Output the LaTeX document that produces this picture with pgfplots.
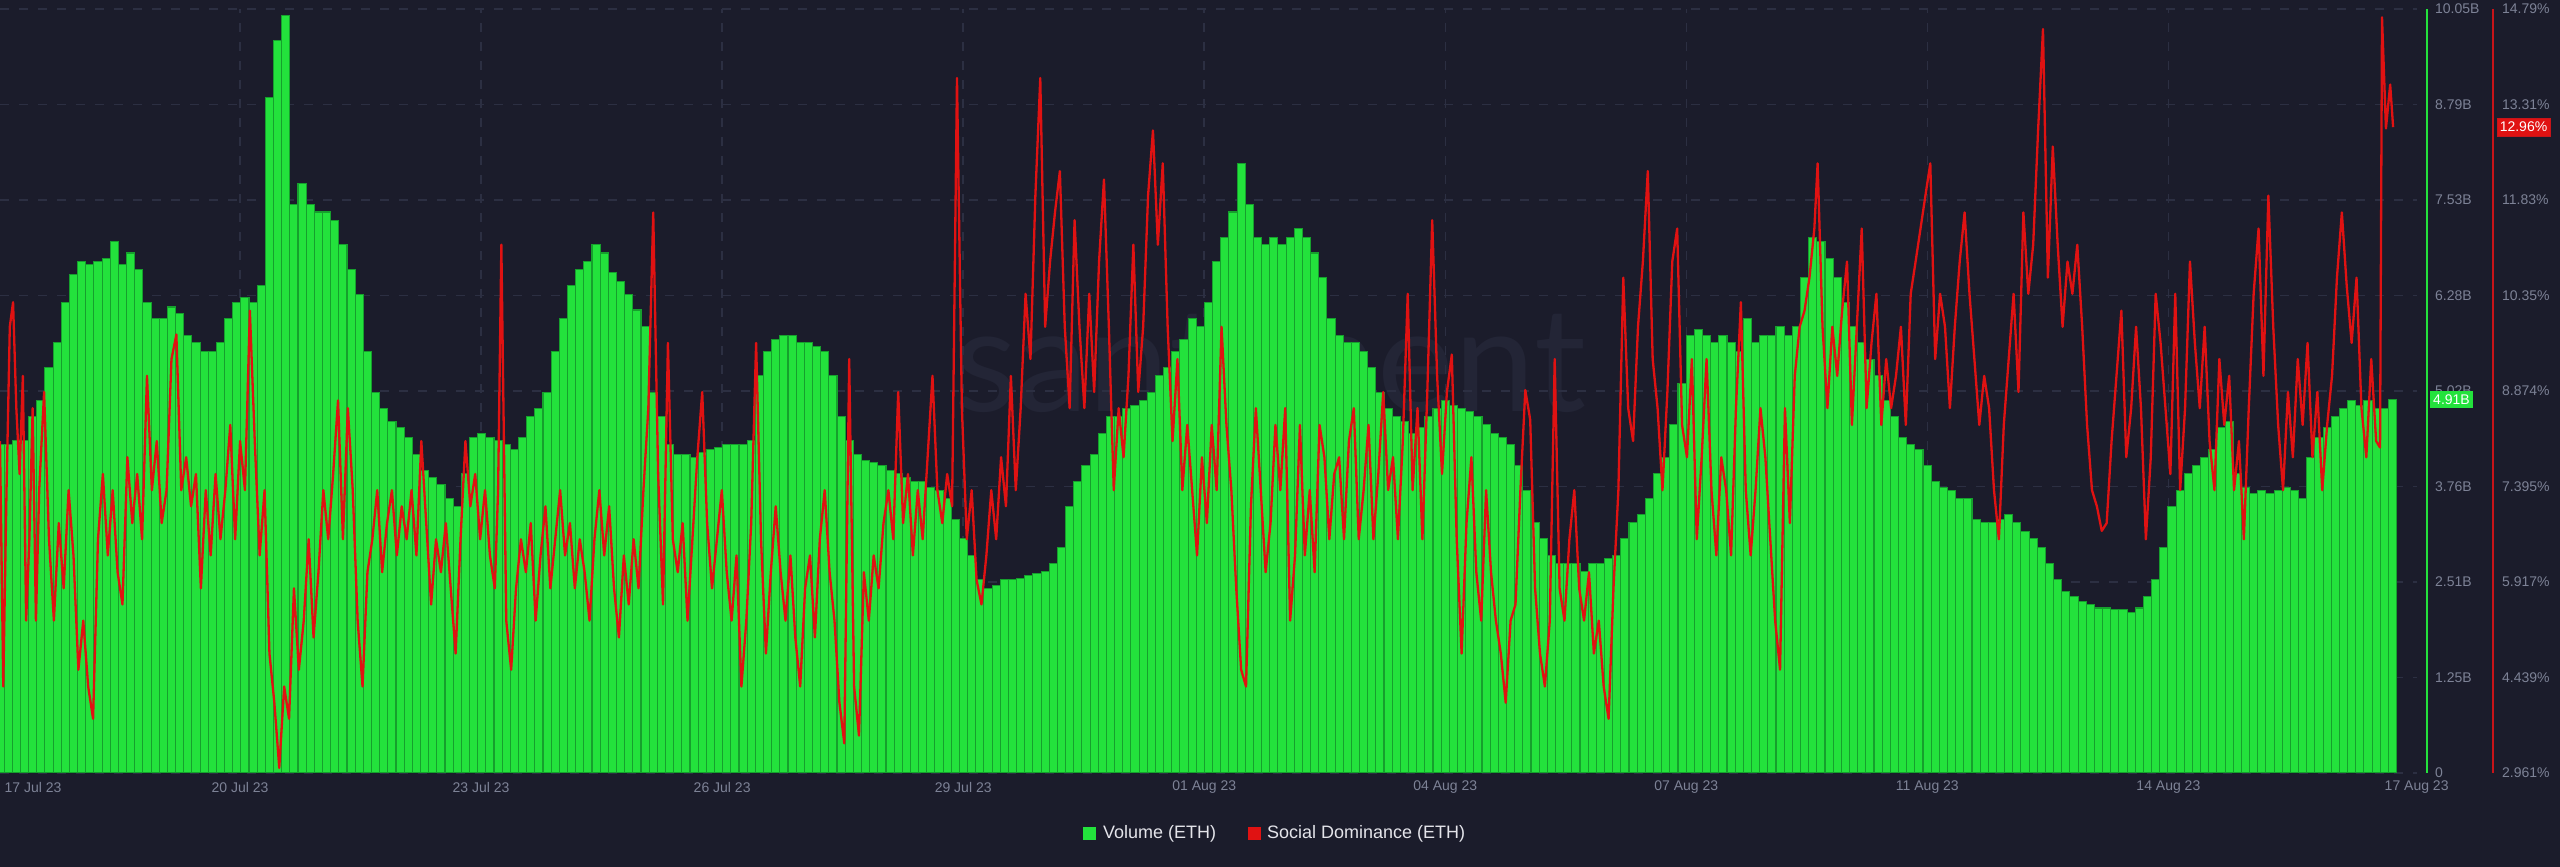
\documentclass[border=0pt]{standalone}
\usepackage{fontspec}
\setmainfont{Liberation Sans}
\newfontfamily\wmfont{Lato}
\usepackage{pgfplots}
\pgfplotsset{compat=1.18}
\definecolor{bgc}{RGB}{27,28,43}
\definecolor{gridc}{RGB}{44,47,66}
\definecolor{tickc}{RGB}{125,130,150}
\definecolor{legc}{RGB}{228,228,234}
\definecolor{volgreen}{RGB}{35,226,60}
\definecolor{voldark}{RGB}{22,160,45}
\definecolor{sdred}{RGB}{224,18,18}
\definecolor{sdaxis}{RGB}{200,20,25}
\definecolor{wmc}{RGB}{35,37,54}
\begin{document}
\begin{tikzpicture}[x=1pt,y=1pt]
\fill[bgc] (0,0) rectangle (2560,867);
\useasboundingbox (0,0) rectangle (2560,867);
\node[text=wmc, font=\wmfont\fontsize{145}{150}\selectfont] at (1270,508) {santiment};
\begin{axis}[
  at={(0pt,94pt)}, anchor=south west,
  width=2417pt, height=764pt, scale only axis,
  xmin=0, xmax=740, ymin=0, ymax=10.05,
  axis line style={draw=none},
  major tick length=0pt,
  grid=major,
  major grid style={gridc, line width=1.5pt, dash pattern=on 9pt off 10pt},
  xtick={73.5,147.3,221.1,294.9,368.7,442.5,516.3,590.1,663.9},
  xticklabels={20 Jul 23,23 Jul 23,26 Jul 23,29 Jul 23,01 Aug 23,04 Aug 23,07 Aug 23,11 Aug 23,14 Aug 23},
  extra x ticks={10.1,739.9},
  extra x tick labels={17 Jul 23,17 Aug 23},
  extra x tick style={grid=none},
  xticklabel style={font=\fontsize{14}{16}\selectfont, text=tickc, anchor=center, inner sep=0pt, yshift=-14pt},
  ytick={0,1.25625,2.5125,3.76875,5.025,6.28125,7.5375,8.79375,10.05},
  yticklabels={0,1.25B,2.51B,3.76B,5.02B,6.28B,7.53B,8.79B,10.05B},
  yticklabel pos=right,
  yticklabel style={anchor=west, inner sep=0pt, xshift=18pt, font=\fontsize{14}{16}\selectfont, text=tickc},
]
\addplot[ybar, bar width=2.5, bar shift=0pt, fill=volgreen, draw=voldark, line width=1.1pt] coordinates {
(0,4.32)(2.5,4.32)(5,4.37)(7.5,4.37)(10,4.69)(12.5,4.90)(15,5.33)(17.5,5.66)(20,6.19)(22.5,6.56)
(25,6.73)(27.5,6.69)(30,6.73)(32.5,6.77)(35,6.99)(37.5,6.69)(40,6.84)(42.5,6.62)(45,6.19)(47.5,5.98)
(50,5.98)(52.5,6.13)(55,6.04)(57.5,5.76)(60,5.66)(62.5,5.55)(65,5.55)(67.5,5.66)(70,5.98)(72.5,6.19)
(75,6.26)(77.5,6.19)(80,6.41)(82.5,8.88)(85,9.64)(87.5,9.96)(90,7.48)(92.5,7.76)(95,7.48)(97.5,7.38)
(100,7.38)(102.5,7.27)(105,6.95)(107.5,6.62)(110,6.30)(112.5,5.55)(115,5.01)(117.5,4.80)(120,4.62)(122.5,4.54)
(125,4.41)(127.5,4.19)(130,3.98)(132.5,3.89)(135,3.79)(137.5,3.61)(140,3.51)(142.5,3.94)(145,4.41)(147.5,4.47)
(150,4.41)(152.5,4.37)(155,4.32)(157.5,4.26)(160,4.41)(162.5,4.69)(165,4.80)(167.5,5.01)(170,5.55)(172.5,5.98)
(175,6.41)(177.5,6.62)(180,6.73)(182.5,6.95)(185,6.84)(187.5,6.58)(190,6.47)(192.5,6.30)(195,6.09)(197.5,5.87)
(200,5.01)(202.5,4.69)(205,4.32)(207.5,4.19)(210,4.19)(212.5,4.15)(215,4.22)(217.5,4.26)(220,4.28)(222.5,4.32)
(225,4.32)(227.5,4.32)(230,4.37)(232.5,5.23)(235,5.55)(237.5,5.70)(240,5.76)(242.5,5.76)(245,5.66)(247.5,5.66)
(250,5.61)(252.5,5.55)(255,5.23)(257.5,4.69)(260,4.37)(262.5,4.19)(265,4.11)(267.5,4.09)(270,4.04)(272.5,3.98)
(275,3.94)(277.5,3.89)(280,3.83)(282.5,3.83)(285,3.76)(287.5,3.72)(290,3.61)(292.5,3.33)(295,3.08)(297.5,2.86)
(300,2.54)(302.5,2.43)(305,2.47)(307.5,2.54)(310,2.54)(312.5,2.56)(315,2.60)(317.5,2.62)(320,2.65)(322.5,2.75)
(325,2.97)(327.5,3.51)(330,3.83)(332.5,4.04)(335,4.19)(337.5,4.47)(340,4.69)(342.5,4.69)(345,4.80)(347.5,4.84)
(350,4.90)(352.5,5.01)(355,5.23)(357.5,5.33)(360,5.55)(362.5,5.70)(365,5.98)(367.5,5.87)(370,6.19)(372.5,6.73)
(375,7.05)(377.5,7.38)(380,8.02)(382.5,7.48)(385,7.05)(387.5,6.95)(390,7.05)(392.5,6.95)(395,7.05)(397.5,7.16)
(400,7.05)(402.5,6.84)(405,6.52)(407.5,5.98)(410,5.76)(412.5,5.66)(415,5.66)(417.5,5.55)(420,5.33)(422.5,5.01)
(425,4.80)(427.5,4.69)(430,4.62)(432.5,4.47)(435,4.54)(437.5,4.69)(440,4.80)(442.5,4.90)(445,4.84)(447.5,4.80)
(450,4.75)(452.5,4.69)(455,4.58)(457.5,4.47)(460,4.41)(462.5,4.32)(465,4.04)(467.5,3.72)(470,3.29)(472.5,3.08)
(475,2.86)(477.5,2.75)(480,2.75)(482.5,2.75)(485,2.65)(487.5,2.75)(490,2.75)(492.5,2.82)(495,2.86)(497.5,3.08)
(500,3.29)(502.5,3.40)(505,3.61)(507.5,3.94)(510,4.15)(512.5,4.58)(515,5.12)(517.5,5.76)(520,5.83)(522.5,5.76)
(525,5.66)(527.5,5.76)(530,5.66)(532.5,5.55)(535,5.98)(537.5,5.66)(540,5.76)(542.5,5.76)(545,5.87)(547.5,5.76)
(550,5.87)(552.5,6.52)(555,7.05)(557.5,6.99)(560,6.77)(562.5,6.52)(565,6.19)(567.5,5.87)(570,5.66)(572.5,5.44)
(575,5.23)(577.5,4.90)(580,4.69)(582.5,4.41)(585,4.32)(587.5,4.26)(590,4.04)(592.5,3.83)(595,3.76)(597.5,3.72)
(600,3.61)(602.5,3.61)(605,3.33)(607.5,3.29)(610,3.29)(612.5,3.33)(615,3.40)(617.5,3.29)(620,3.18)(622.5,3.08)
(625,2.97)(627.5,2.75)(630,2.54)(632.5,2.39)(635,2.32)(637.5,2.26)(640,2.22)(642.5,2.17)(645,2.17)(647.5,2.15)
(650,2.15)(652.5,2.11)(655,2.17)(657.5,2.32)(660,2.54)(662.5,2.97)(665,3.51)(667.5,3.72)(670,3.94)(672.5,4.04)
(675,4.15)(677.5,4.26)(680,4.54)(682.5,4.62)(685,3.94)(687.5,3.76)(690,3.68)(692.5,3.72)(695,3.68)(697.5,3.72)
(700,3.76)(702.5,3.72)(705,3.61)(707.5,4.15)(710,4.41)(712.5,4.54)(715,4.69)(717.5,4.80)(720,4.90)(722.5,4.84)
(725,4.90)(727.5,4.80)(730,4.80)(732.5,4.91)
};
\end{axis}
\begin{axis}[
  at={(0pt,94pt)}, anchor=south west,
  width=2417pt, height=764pt, scale only axis,
  xmin=0, xmax=740, ymin=2.961, ymax=14.79,
  axis line style={draw=none},
  major tick length=0pt,
  xtick=\empty,
  ytick={2.961,4.439,5.917,7.395,8.874,10.35,11.83,13.31,14.79},
  yticklabels={2.961\%,4.439\%,5.917\%,7.395\%,8.874\%,10.35\%,11.83\%,13.31\%,14.79\%},
  yticklabel pos=right,
  yticklabel style={anchor=west, inner sep=0pt, xshift=85pt, font=\fontsize{14}{16}\selectfont, text=tickc},
]
\addplot[sdred, line width=2.3pt, line join=round] coordinates {
(0,8.10)(1,4.30)(2,7.34)(3,9.87)(4,10.25)(5,8.61)(6,7.59)(7,9.11)(8,5.32)(9,6.58)
(10,8.61)(11,5.32)(12,7.34)(13.5,8.86)(15,6.58)(16.5,5.32)(18,6.83)(19.5,5.82)(21,7.34)(22.5,6.33)
(24,4.56)(25.5,5.32)(27,4.30)(28.5,3.80)(30,6.58)(31.5,7.59)(33,6.33)(34.5,7.34)(36,6.07)(37.5,5.57)
(39,7.85)(40.5,6.83)(42,7.59)(43.5,6.58)(45,9.11)(46.5,7.34)(48,8.10)(49.5,6.83)(51,7.34)(52.5,9.37)
(54,9.75)(55.5,7.34)(57,7.85)(58.5,7.09)(60,7.59)(61.5,5.82)(63,7.34)(64.5,6.33)(66,7.59)(67.5,6.58)
(69,7.34)(70.5,8.35)(72,6.58)(73.5,8.10)(75,7.34)(76.5,10.12)(78,8.10)(79.5,6.33)(81,7.34)(82.5,4.81)
(84,4.05)(85.5,3.04)(87,4.30)(88.5,3.80)(90,5.82)(91.5,4.56)(93,5.32)(94.5,6.58)(96,5.06)(97.5,6.07)
(99,7.34)(100.5,6.58)(102,7.59)(103.5,8.73)(105,6.58)(106.5,8.61)(108,7.34)(109.5,5.32)(111,4.30)(112.5,6.07)
(114,6.58)(115.5,7.34)(117,6.07)(118.5,6.83)(120,7.34)(121.5,6.33)(123,7.09)(124.5,6.58)(126,7.34)(127.5,6.33)
(129,8.10)(130.5,6.83)(132,5.57)(133.5,6.58)(135,6.07)(136.5,6.83)(138,5.82)(139.5,4.81)(141,6.58)(142.5,8.10)
(144,7.09)(145.5,7.59)(147,6.58)(148.5,7.34)(150,6.33)(151.5,5.82)(152.5,7.34)(153.5,11.14)(155,5.32)(156.5,4.56)
(158,5.82)(159.5,6.58)(161,6.07)(162.5,6.83)(164,5.32)(165.5,6.33)(167,7.09)(168.5,5.82)(170,6.58)(171.5,7.34)
(173,6.33)(174.5,6.83)(176,5.82)(177.5,6.58)(179,6.07)(180.5,5.32)(182,6.58)(183.5,7.34)(185,6.33)(186.5,7.09)
(188,5.82)(189.5,5.06)(191,6.33)(192.5,5.57)(194,6.58)(195.5,5.82)(197,7.34)(198.5,8.61)(200,11.64)(201.5,7.59)
(203,5.57)(204.5,9.62)(206,6.58)(207.5,6.07)(209,6.83)(210.5,5.32)(212,6.58)(213.5,7.85)(215,8.86)(216.5,6.83)
(218,5.82)(219.5,6.58)(221,7.34)(222.5,6.07)(224,5.32)(225.5,6.33)(227,4.30)(228.5,5.32)(230,6.83)(231.5,9.62)
(233,6.58)(234.5,4.81)(236,6.07)(237.5,7.09)(239,6.07)(240.5,5.32)(242,6.33)(243.5,5.06)(245,4.30)(246.5,5.82)
(248,6.33)(249.5,5.06)(251,6.58)(252.5,7.34)(254,6.07)(255.5,5.32)(257,4.05)(258.5,3.42)(260,9.37)(261.5,4.30)
(263,3.54)(264.5,6.07)(266,5.32)(267.5,6.33)(269,5.82)(270.5,6.83)(272,7.34)(273.5,6.58)(275,8.86)(276.5,6.83)
(278,7.59)(279.5,6.33)(281,7.34)(282.5,6.58)(284,7.85)(285.5,9.11)(287,7.34)(288.5,6.83)(290,7.59)(291.5,7.09)
(293,13.72)(294.5,8.61)(296,6.58)(297.5,7.34)(299,5.95)(300.5,5.57)(302,6.33)(303.5,7.34)(305,6.58)(306.5,7.85)
(308,7.09)(309.5,9.11)(311,7.34)(312.5,8.61)(314,10.38)(315.5,9.37)(317,11.90)(318.5,13.72)(320,9.87)(321.5,10.88)
(323,11.64)(324.5,12.28)(326,9.87)(327.5,8.61)(329,11.52)(330.5,9.87)(332,8.61)(333.5,10.38)(335,8.86)(336.5,10.88)
(338,12.15)(339.5,9.87)(341,7.34)(342.5,8.61)(344,7.85)(345.5,9.11)(347,11.14)(348.5,8.86)(350,9.87)(351.5,11.90)
(353,12.91)(354.5,11.14)(356,12.40)(357.5,9.87)(359,8.10)(360.5,9.37)(362,7.34)(363.5,8.35)(365,7.34)(366.5,6.33)
(368,7.85)(369.5,6.83)(371,8.35)(372.5,7.34)(374,9.87)(375.5,8.35)(377,7.34)(378.5,5.82)(380,4.56)(381.5,4.30)
(383,7.09)(384.5,8.61)(386,7.34)(387.5,6.07)(389,6.83)(390.5,8.35)(392,7.34)(393.5,8.61)(395,5.32)(396.5,6.33)
(398,8.35)(399.5,6.33)(401,7.34)(402.5,6.07)(404,8.35)(405.5,7.85)(407,6.58)(408.5,7.59)(410,7.85)(411.5,6.58)
(413,8.10)(414.5,8.61)(416,6.58)(417.5,7.34)(419,8.35)(420.5,6.58)(422,7.59)(423.5,8.86)(425,7.34)(426.5,7.85)
(428,6.58)(429.5,8.10)(431,10.38)(432.5,7.34)(434,8.61)(435.5,6.58)(437,8.86)(438.5,11.52)(440,9.11)(441.5,7.59)
(443,8.86)(444.5,9.44)(446,6.58)(447.5,4.81)(449,6.83)(450.5,7.85)(452,6.07)(453.5,5.32)(455,7.34)(456.5,6.07)
(458,5.32)(459.5,4.81)(461,4.05)(462.5,5.32)(464,5.57)(465.5,7.34)(467,8.89)(468.5,8.43)(470,5.82)(471.5,4.81)
(473,4.30)(474.5,5.32)(476,9.37)(477.5,5.82)(479,5.32)(480.5,6.58)(482,7.34)(483.5,5.82)(485,5.32)(486.5,6.07)
(488,4.81)(489.5,5.32)(491,4.30)(492.5,3.80)(494,5.82)(495.5,7.34)(497,10.63)(498.5,8.61)(500,8.10)(501.5,9.87)
(503,10.88)(504.5,12.28)(506,9.37)(507.5,8.61)(509,7.34)(510.5,8.86)(512,10.88)(513.5,11.39)(515,8.35)(516.5,7.85)
(518,9.37)(519.5,6.58)(521,7.85)(522.5,9.37)(524,7.34)(525.5,6.33)(527,7.85)(528.5,7.34)(530,6.33)(531.5,8.61)
(533,10.25)(534.5,7.34)(536,6.33)(537.5,7.34)(539,8.61)(540.5,7.85)(542,6.58)(543.5,5.32)(545,4.56)(546.5,8.61)
(548,6.83)(549.5,9.11)(551,9.87)(552.5,10.12)(554,10.63)(555.5,11.39)(556.5,12.40)(558,9.87)(559.5,8.61)(561,9.87)
(562.5,9.11)(564,10.12)(565.5,10.88)(567,8.35)(568.5,9.87)(570,11.39)(571.5,8.61)(573,9.62)(574.5,10.38)(576,8.35)
(577.5,9.37)(579,8.61)(580.5,9.11)(582,9.87)(583.5,8.35)(585,10.38)(586.5,10.88)(588,11.39)(589.5,11.90)(591,12.40)
(592.5,9.37)(594,10.38)(595.5,9.87)(597,8.61)(598.5,9.87)(600,10.88)(601.5,11.64)(603,10.38)(604.5,9.37)(606,8.35)
(607.5,9.11)(609,8.61)(610.5,7.34)(612,6.58)(613.5,8.35)(615,9.37)(616.5,10.38)(618,8.86)(619.5,11.64)(621,10.38)
(622.5,11.14)(624,12.91)(625.5,14.48)(627,10.63)(628.5,12.66)(630,11.14)(631.5,9.87)(633,10.88)(634.5,10.38)(636,11.14)
(637.5,9.87)(639,8.35)(640.5,7.34)(642,7.09)(643.5,6.71)(645,6.83)(646.5,8.10)(648,9.11)(649.5,10.12)(651,7.85)
(652.5,8.61)(654,9.87)(655.5,8.61)(657,6.58)(658.5,7.85)(660,10.38)(661.5,9.62)(663,8.61)(664.5,7.59)(666,10.38)
(667.5,7.34)(669,8.61)(670.5,10.88)(672,9.62)(673.5,8.61)(675,9.87)(676.5,8.10)(678,7.34)(679.5,9.37)(681,8.35)
(682.5,9.11)(684,7.34)(685.5,8.10)(687,6.58)(688.5,8.61)(690,10.38)(691.5,11.39)(693,9.11)(694.5,11.90)(696,9.87)
(697.5,8.35)(699,7.34)(700.5,8.86)(702,7.85)(703.5,9.37)(705,8.35)(706.5,9.62)(708,7.85)(709.5,8.86)(711,7.34)
(712.5,8.35)(714,9.11)(715.5,10.63)(717,11.64)(718.5,10.50)(720,9.62)(721.5,10.63)(723,8.61)(724.5,7.85)(726,9.37)
(727.5,8.10)(728.7,8.00)(729.3,14.66)(730.5,12.94)(731.8,13.62)(732.7,12.96)
};
\end{axis}
\draw[volgreen, line width=1.5pt] (2427,94) -- (2427,858);
\draw[sdaxis, line width=1.5pt] (2493,94) -- (2493,858);
\node[fill=volgreen, text=white, inner sep=0pt, minimum width=43pt, minimum height=17pt, font=\fontsize{14}{16}\selectfont] at (2451.5,467.5) {4.91B};
\node[fill=sdred, draw=sdaxis, text=white, inner sep=0pt, minimum width=53pt, minimum height=18pt, font=\fontsize{14}{16}\selectfont] at (2523.5,740) {12.96\%};
\fill[volgreen] (1083,26.5) rectangle (1096,39.5);
\node[anchor=west, inner sep=0pt, text=legc, font=\fontsize{18}{20}\selectfont] at (1103,33) {Volume (ETH)};
\fill[sdred] (1248,26.5) rectangle (1261,39.5);
\node[anchor=west, inner sep=0pt, text=legc, font=\fontsize{18}{20}\selectfont] at (1267,33) {Social Dominance (ETH)};
\end{tikzpicture}
\end{document}
